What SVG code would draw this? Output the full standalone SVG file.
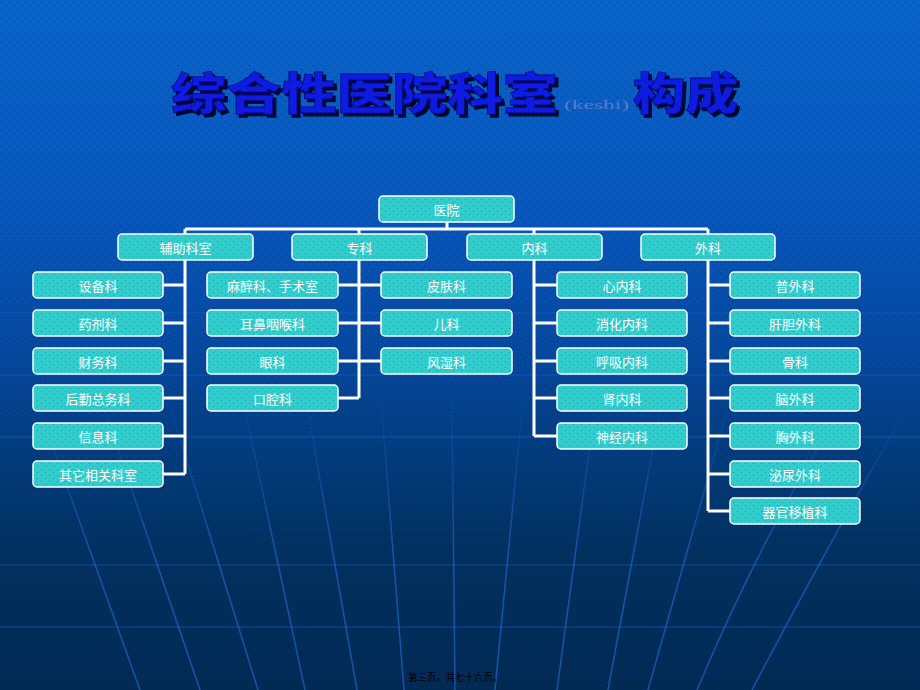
<svg xmlns="http://www.w3.org/2000/svg" width="920" height="690" viewBox="0 0 920 690">
<defs>
<linearGradient id="bg" x1="0" y1="0" x2="0" y2="1">
<stop offset="0" stop-color="#0a64c8"/>
<stop offset="0.3" stop-color="#0857bc"/>
<stop offset="0.5" stop-color="#0649a0"/>
<stop offset="0.68" stop-color="#033a78"/>
<stop offset="0.8" stop-color="#02305f"/>
<stop offset="1" stop-color="#022a55"/>
</linearGradient>
<pattern id="bgdots" width="8" height="8" patternUnits="userSpaceOnUse">
<rect x="1" y="1" width="1" height="1" fill="#001a66" opacity="0.55"/>
<rect x="5" y="5" width="1" height="1" fill="#001a66" opacity="0.55"/>
</pattern>
<pattern id="teal" width="8" height="6" patternUnits="userSpaceOnUse">
<rect width="8" height="6" fill="#33cccc"/>
<rect x="1" y="1" width="1" height="1" fill="#1a9e9e"/>
<rect x="5" y="4" width="1" height="1" fill="#1a9e9e"/>
</pattern>
<linearGradient id="fade" gradientUnits="userSpaceOnUse" x1="0" y1="390" x2="0" y2="560">
<stop offset="0" stop-color="#1f6fe0" stop-opacity="0"/>
<stop offset="1" stop-color="#1f6fe0" stop-opacity="0.6"/>
</linearGradient>
<filter id="shadow" x="-5%" y="-20%" width="110%" height="150%">
<feDropShadow dx="3" dy="3" stdDeviation="0.6" flood-color="#000022" flood-opacity="0.95"/>
</filter>
<style>
.box{fill:url(#teal);stroke:#ffffff;stroke-width:1.5}
.lbl{font-family:"Noto Sans CJK SC","Noto Sans",sans-serif;font-size:13px;fill:#ffffff;text-anchor:middle;dominant-baseline:central}
.con{stroke:#ffffff;stroke-width:3;fill:none}
.hl{stroke:#1a66d6;stroke-width:1.5;opacity:0.35}
.pl{stroke:url(#fade);stroke-width:1.5;fill:none}
.title{font-family:"Noto Sans CJK SC",sans-serif;font-weight:900;font-size:44px;fill:#0b1fe0;stroke:#000a80;stroke-width:0.8}
</style>
</defs>

<rect width="920" height="690" fill="url(#bg)"/>
<rect width="920" height="690" fill="url(#bgdots)"/>

<g id="grid">
<line class="hl" x1="0" y1="313" x2="920" y2="313"/>
<line class="hl" x1="0" y1="375" x2="920" y2="375"/>
<line class="hl" x1="0" y1="437" x2="920" y2="437"/>
<line class="hl" x1="0" y1="565" x2="920" y2="565" opacity="0.15"/>
<line class="hl" x1="0" y1="627" x2="920" y2="627" opacity="0.25"/>
<path class="pl" d="M36,400 L140,690"/>
<path class="pl" d="M101,400 L200,690"/>
<path class="pl" d="M168,400 L258,690"/>
<path class="pl" d="M243,400 L305,690"/>
<path class="pl" d="M306,400 L357,690"/>
<path class="pl" d="M381,400 L404,690"/>
<path class="pl" d="M452,400 L455,690"/>
<path class="pl" d="M523,400 L495,690"/>
<path class="pl" d="M596,400 L557,690"/>
<path class="pl" d="M662,400 L608,690"/>
<path class="pl" d="M730,400 L648,690"/>
<path class="pl" d="M835,420 Q760,540 697,690"/>
<path class="pl" d="M900,420 Q820,560 752,690"/>
</g>

<g id="title">
<g filter="url(#shadow)">
<text class="title" x="171" y="110" textLength="387" lengthAdjust="spacingAndGlyphs">综合性医院科室</text>
<text class="title" x="633" y="110" textLength="105" lengthAdjust="spacingAndGlyphs">构成</text>
</g>
<text x="564" y="109" textLength="65" lengthAdjust="spacingAndGlyphs" font-family="Liberation Serif,serif" font-size="12" fill="#5f78cc">(keshi)</text>
</g>

<g id="connectors">
<path class="con" d="M447,222 V229 M185,229 H708 M185,229 V234 M359,229 V234 M534,229 V234 M708,229 V234"/>
<path class="con" d="M185,260 V474 M163,285 H185 M163,323 H185 M163,361 H185 M163,398 H185 M163,436 H185 M163,474 H185"/>
<path class="con" d="M359,260 V398 M338,285 H381 M338,323 H381 M338,361 H381 M338,398 H359"/>
<path class="con" d="M534,260 V436 M534,285 H557 M534,323 H557 M534,361 H557 M534,398 H557 M534,436 H557"/>
<path class="con" d="M708,260 V511 M708,285 H730 M708,323 H730 M708,361 H730 M708,398 H730 M708,436 H730 M708,474 H730 M708,511 H730"/>
</g>

<g id="n-root"><rect class="box" x="379" y="196" width="135" height="26" rx="4"/><text class="lbl" x="446.5" y="209">医院</text></g>

<g id="n-fuzhu"><rect class="box" x="118" y="234" width="135" height="26" rx="4"/><text class="lbl" x="185.5" y="247">辅助科室</text></g>
<g id="n-zhuanke"><rect class="box" x="292" y="234" width="135" height="26" rx="4"/><text class="lbl" x="359.5" y="247">专科</text></g>
<g id="n-neike"><rect class="box" x="467" y="234" width="135" height="26" rx="4"/><text class="lbl" x="534.5" y="247">内科</text></g>
<g id="n-waike"><rect class="box" x="641" y="234" width="134" height="26" rx="4"/><text class="lbl" x="708" y="247">外科</text></g>

<g id="n-shebei"><rect class="box" x="33" y="272" width="130" height="26" rx="4"/><text class="lbl" x="98" y="285">设备科</text></g>
<g id="n-yaoji"><rect class="box" x="33" y="310" width="130" height="26" rx="4"/><text class="lbl" x="98" y="323">药剂科</text></g>
<g id="n-caiwu"><rect class="box" x="33" y="348" width="130" height="26" rx="4"/><text class="lbl" x="98" y="361">财务科</text></g>
<g id="n-houqin"><rect class="box" x="33" y="385" width="130" height="26" rx="4"/><text class="lbl" x="98" y="398">后勤总务科</text></g>
<g id="n-xinxi"><rect class="box" x="33" y="423" width="130" height="26" rx="4"/><text class="lbl" x="98" y="436">信息科</text></g>
<g id="n-qita"><rect class="box" x="33" y="461" width="130" height="26" rx="4"/><text class="lbl" x="98" y="474">其它相关科室</text></g>

<g id="n-mazui"><rect class="box" x="207" y="272" width="131" height="26" rx="4"/><text class="lbl" x="272.5" y="285">麻醉科、手术室</text></g>
<g id="n-erbi"><rect class="box" x="207" y="310" width="131" height="26" rx="4"/><text class="lbl" x="272.5" y="323">耳鼻咽喉科</text></g>
<g id="n-yanke"><rect class="box" x="207" y="348" width="131" height="26" rx="4"/><text class="lbl" x="272.5" y="361">眼科</text></g>
<g id="n-kouqiang"><rect class="box" x="207" y="385" width="131" height="26" rx="4"/><text class="lbl" x="272.5" y="398">口腔科</text></g>

<g id="n-pifu"><rect class="box" x="381" y="272" width="131" height="26" rx="4"/><text class="lbl" x="446.5" y="285">皮肤科</text></g>
<g id="n-erke"><rect class="box" x="381" y="310" width="131" height="26" rx="4"/><text class="lbl" x="446.5" y="323">儿科</text></g>
<g id="n-fengshi"><rect class="box" x="381" y="348" width="131" height="26" rx="4"/><text class="lbl" x="446.5" y="361">风湿科</text></g>

<g id="n-xinnei"><rect class="box" x="557" y="272" width="130" height="26" rx="4"/><text class="lbl" x="622" y="285">心内科</text></g>
<g id="n-xiaohua"><rect class="box" x="557" y="310" width="130" height="26" rx="4"/><text class="lbl" x="622" y="323">消化内科</text></g>
<g id="n-huxi"><rect class="box" x="557" y="348" width="130" height="26" rx="4"/><text class="lbl" x="622" y="361">呼吸内科</text></g>
<g id="n-shennei"><rect class="box" x="557" y="385" width="130" height="26" rx="4"/><text class="lbl" x="622" y="398">肾内科</text></g>
<g id="n-shenjing"><rect class="box" x="557" y="423" width="130" height="26" rx="4"/><text class="lbl" x="622" y="436">神经内科</text></g>

<g id="n-puwai"><rect class="box" x="730" y="272" width="130" height="26" rx="4"/><text class="lbl" x="795" y="285">普外科</text></g>
<g id="n-gandan"><rect class="box" x="730" y="310" width="130" height="26" rx="4"/><text class="lbl" x="795" y="323">肝胆外科</text></g>
<g id="n-guke"><rect class="box" x="730" y="348" width="130" height="26" rx="4"/><text class="lbl" x="795" y="361">骨科</text></g>
<g id="n-naowai"><rect class="box" x="730" y="385" width="130" height="26" rx="4"/><text class="lbl" x="795" y="398">脑外科</text></g>
<g id="n-xiongwai"><rect class="box" x="730" y="423" width="130" height="26" rx="4"/><text class="lbl" x="795" y="436">胸外科</text></g>
<g id="n-miniao"><rect class="box" x="730" y="461" width="130" height="26" rx="4"/><text class="lbl" x="795" y="474">泌尿外科</text></g>
<g id="n-yizhi"><rect class="box" x="730" y="498" width="130" height="26" rx="4"/><text class="lbl" x="795" y="511">器官移植科</text></g>

<g id="footer"><text x="408" y="681" textLength="94" lengthAdjust="spacingAndGlyphs" font-family="Noto Sans CJK SC,sans-serif" font-size="10.5" fill="#000000">第三页，共七十六页。</text></g>
</svg>
